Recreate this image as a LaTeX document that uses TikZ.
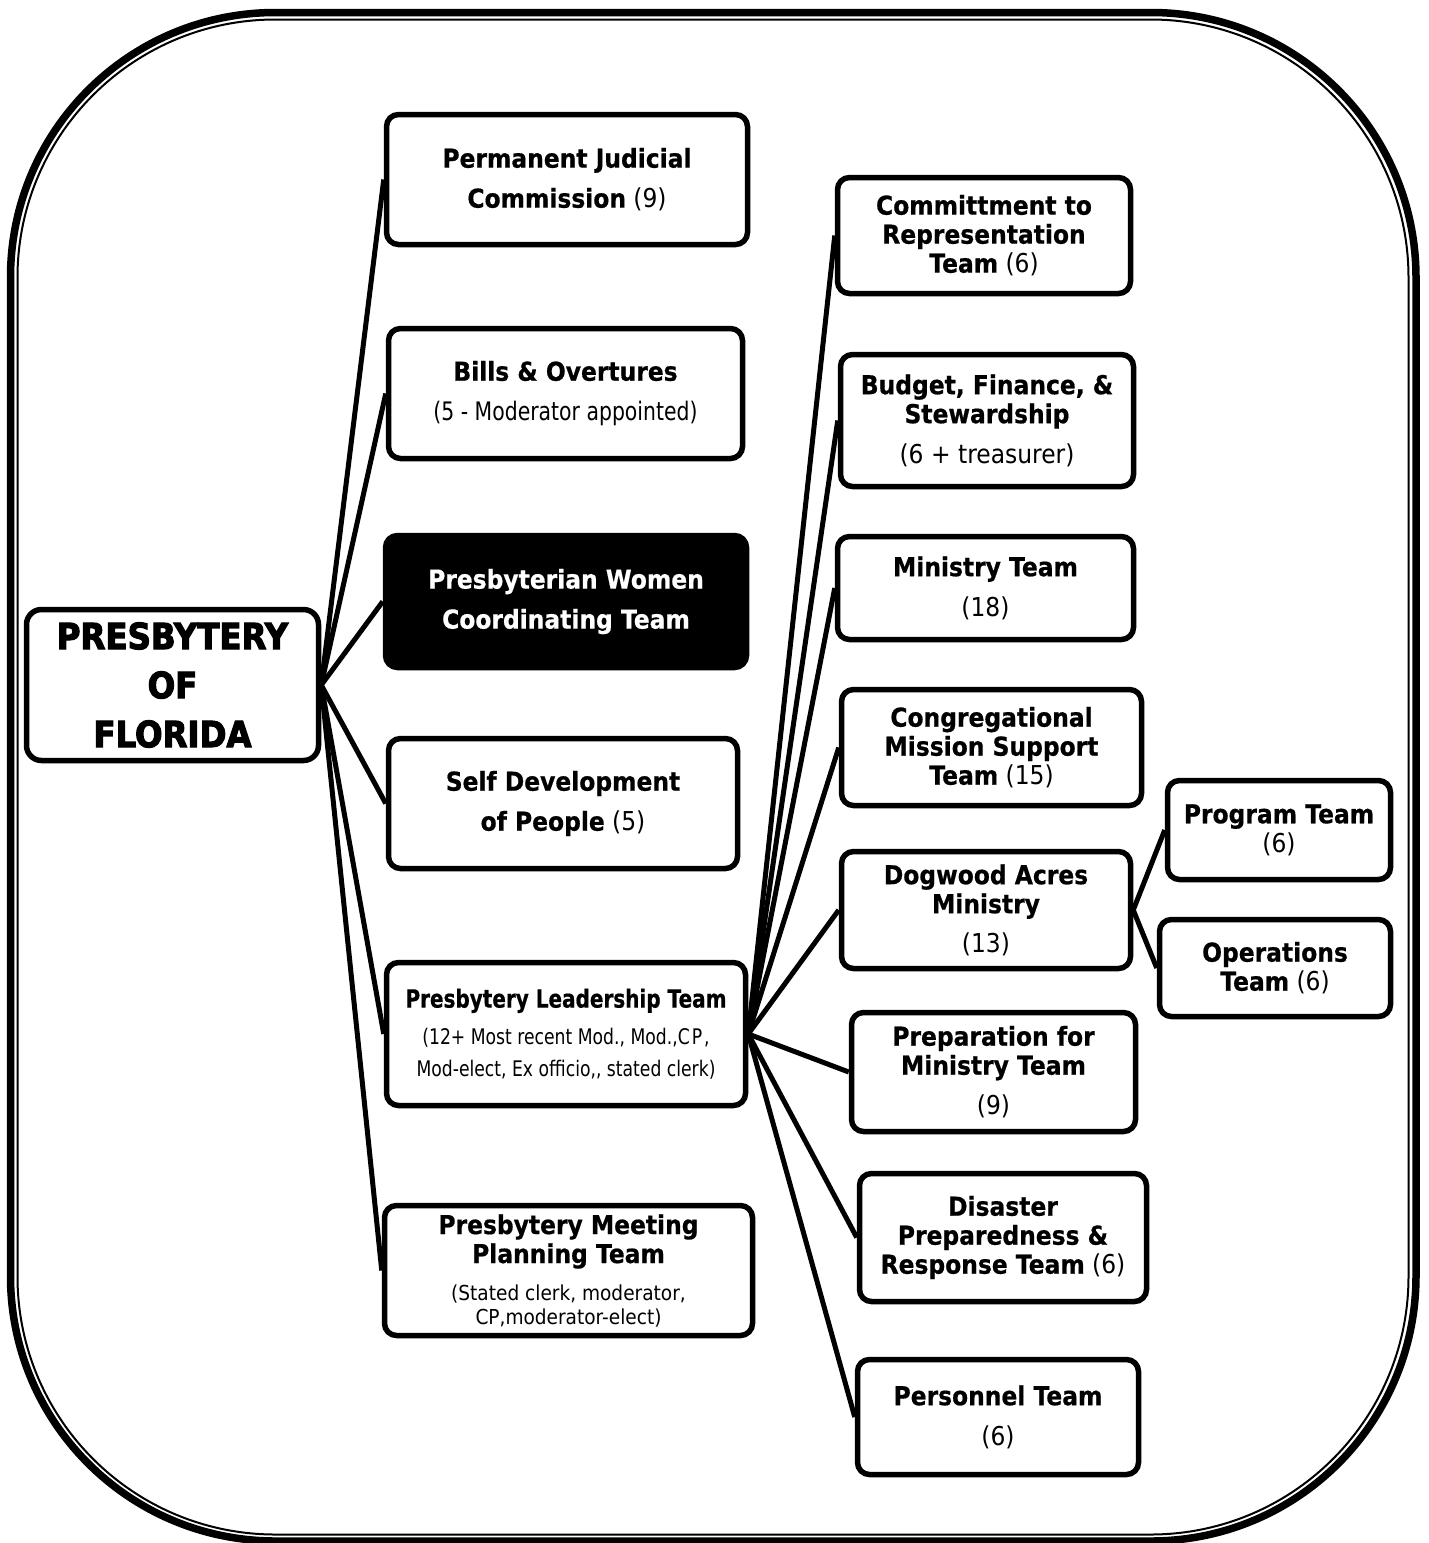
\documentclass[tikz,border=0pt]{standalone}
\usepackage{fontspec}
\setmainfont{DejaVu Sans}[FakeStretch=0.9, BoldFeatures={FakeBold=0.6}]
\newfontfamily\condfont{DejaVu Sans}[FakeStretch=0.8, BoldFeatures={FakeBold=0.6}]
\newfontfamily\heavyfont{DejaVu Sans}[FakeStretch=0.9, BoldFeatures={FakeBold=3}]
\begin{document}
\begin{tikzpicture}[x=1pt,y=-1pt,
  box/.style={draw, line width=5.5pt, rounded corners=12pt, fill=white, align=center,
    inner sep=0pt, font=\fontsize{26}{29}\selectfont},
  darkbox/.style={box, fill=black, text=white},
  conn/.style={line width=5pt}]
\useasboundingbox (0,0) rectangle (1428,1543);
% outer frame
\draw[line width=7.5pt, rounded corners=265pt] (10.5,12.5) rectangle (1416,1541);
\draw[line width=2pt, rounded corners=258pt] (17.5,19.5) rectangle (1408.5,1534.5);

% root
\node[box, rounded corners=15pt, minimum width=292pt, minimum height=151pt,
  font=\heavyfont\bfseries\fontsize{36}{49}\selectfont] (root) at (172.5,685)
  {PRESBYTERY\\OF\\FLORIDA};

% left column
\node[box, minimum width=361pt, minimum height=130pt] (pjc) at (567,179.5)
  {\textbf{Permanent Judicial}\\[11pt]\textbf{Commission} (9)};
\node[box, minimum width=354pt, minimum height=130pt] (bills) at (565.5,393.5)
  {\textbf{Bills \& Overtures}\\[11pt]{\condfont\fontsize{25.5}{29}\selectfont (5 - Moderator appointed)}};
\node[darkbox, minimum width=361pt, minimum height=132pt] (pwct) at (566,601.5)
  {\textbf{Presbyterian Women}\\[11pt]\textbf{Coordinating Team}};
\node[box, minimum width=349pt, minimum height=130pt] (sdp) at (563,803.5)
  {\textbf{Self Development}\\[11pt]\textbf{of People} (5)};
\node[box, minimum width=359pt, minimum height=143pt] (plt) at (566,1034)
  {{\condfont\bfseries\fontsize{25}{29}\selectfont Presbytery Leadership Team}\\[8pt]
   {\condfont\fontsize{21.5}{29}\selectfont (12+ Most recent Mod., Mod.,C\kern2pt P\kern2pt,}\\[3pt]
   {\condfont\fontsize{21.5}{29}\selectfont Mod-elect, Ex officio,, stated clerk)}};
\node[box, minimum width=368pt, minimum height=130pt] (pmpt) at (568.5,1270.5)
  {\textbf{Presbytery Meeting}\\\textbf{Planning Team}\\[8pt]
   {\fontsize{20.6}{24}\selectfont (Stated clerk, moderator,}\\[-5pt]
   {\fontsize{20.6}{24}\selectfont CP,moderator-elect)}};

% right column
\node[box, minimum width=293pt, minimum height=116pt] (crt) at (984,235.5)
  {\textbf{Committment to}\\\textbf{Representation}\\\textbf{Team} (6)};
\node[box, minimum width=293pt, minimum height=132pt] (bfs) at (987,420.5)
  {\textbf{Budget, Finance, \&}\\\textbf{Stewardship}\\[11pt](6 + treasurer)};
\node[box, minimum width=296pt, minimum height=103pt] (mt) at (985.5,588)
  {\textbf{Ministry Team}\\[11pt](18)};
\node[box, minimum width=300pt, minimum height=116pt] (cmst) at (991.5,747.5)
  {\textbf{Congregational}\\\textbf{Mission Support}\\\textbf{Team} (15)};
\node[box, minimum width=289pt, minimum height=117pt] (dam) at (986,910)
  {\textbf{Dogwood Acres}\\\textbf{Ministry}\\[10pt](13)};
\node[box, minimum width=223pt, minimum height=99pt] (prog) at (1279,830)
  {\textbf{Program Team}\\(6)};
\node[box, minimum width=231pt, minimum height=97pt] (ops) at (1275,968)
  {\textbf{Operations}\\\textbf{Team} (6)};
\node[box, minimum width=284pt, minimum height=119pt] (pfmt) at (993.5,1072)
  {\textbf{Preparation for}\\\textbf{Ministry Team}\\[11pt](9)};
\node[box, minimum width=287pt, minimum height=128pt] (dprt) at (1003,1237.5)
  {\textbf{Disaster}\\\textbf{Preparedness \&}\\\textbf{Response Team} (6)};
\node[box, minimum width=281pt, minimum height=115pt] (pt) at (998,1417)
  {\textbf{Personnel Team}\\[11pt](6)};

% connectors
\foreach \n in {pjc,bills,pwct,sdp,plt,pmpt}
  \draw[conn] (root.east) -- (\n.west);
\foreach \n in {crt,bfs,mt,cmst,dam,pfmt,dprt,pt}
  \draw[conn] (plt.east) -- (\n.west);
\draw[conn] (dam.east) -- (prog.west);
\draw[conn] (dam.east) -- (ops.west);
\end{tikzpicture}
\end{document}
